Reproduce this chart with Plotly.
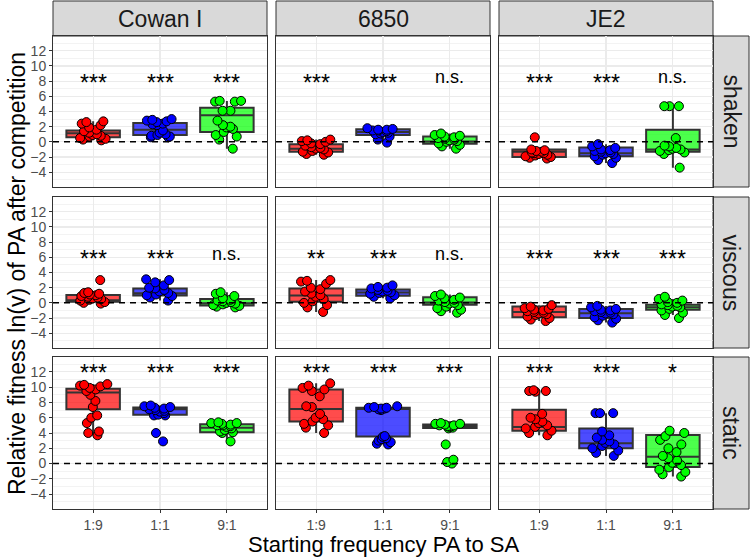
import plotly.graph_objects as go

# ---------------- data ----------------
freqs = ["1:9", "1:1", "9:1"]
strains = ["Cowan I", "6850", "JE2"]
conditions = ["shaken", "viscous", "static"]
point_colors = ["#FF0000", "#0000FF", "#00FF00"]
box_fills = ["rgba(255,0,0,0.7)", "rgba(0,0,255,0.7)", "rgba(0,255,0,0.7)"]

# box stats per frequency: [q1, median, q3, lower whisker, upper whisker]
# points per frequency (1:9, 1:1, 9:1)
shaken_cowan_box = [[0.6, 1.15, 1.5, 0.2, 2.7], [0.9, 1.6, 2.5, 0.6, 3.0], [1.3, 3.5, 4.5, -0.9, 5.4]]
shaken_cowan_pts = [
    [2.7, 2.6, 2.4, 2.2, 1.9, 1.6, 1.4, 1.2, 1.0, 0.9, 0.8, 0.7, 0.5, 0.4, 0.3, 0.2],
    [3.0, 2.9, 2.8, 2.7, 2.6, 2.4, 2.3, 2.2, 1.5, 1.2, 1.0, 0.9, 0.8, 0.7, 0.6, 0.6],
    [5.4, 5.4, 5.3, 5.3, 4.1, 4.1, 2.8, 2.2, 2.0, 1.9, 1.7, 1.3, 0.9, 0.7, 0.3, -0.9],
]
shaken_6850_box = [[-1.3, -0.9, -0.3, -1.7, 0.3], [0.9, 1.3, 1.65, -0.1, 1.8], [-0.25, 0.05, 0.7, -0.9, 1.1]]
shaken_6850_pts = [
    [0.3, 0.2, 0.1, 0.0, -0.2, -0.3, -0.5, -0.7, -0.8, -0.9, -1.0, -1.2, -1.3, -1.4, -1.6, -1.7],
    [1.8, 1.7, 1.6, 1.6, 1.5, 1.5, 1.4, 1.3, 1.2, 1.1, 1.0, 0.7, 0.3, -0.1],
    [1.1, 0.9, 0.8, 0.7, 0.6, 0.5, 0.4, 0.3, 0.2, 0.1, 0.0, -0.2, -0.4, -0.6, -0.9],
]
shaken_je2_box = [[-2.0, -1.3, -1.0, -2.2, -1.0], [-1.9, -1.5, -0.75, -2.8, -0.3], [-1.3, -1.0, 1.6, -3.4, 4.7]]
shaken_je2_pts = [
    [0.6, -1.0, -1.1, -1.2, -1.3, -1.4, -1.5, -1.5, -1.6, -1.7, -1.8, -1.9, -2.0, -2.1, -2.2],
    [-0.3, -0.6, -0.8, -1.0, -1.1, -1.2, -1.3, -1.4, -1.5, -1.6, -1.7, -1.9, -2.1, -2.4, -2.8],
    [4.7, 4.7, 4.7, 0.5, -0.5, -0.6, -0.8, -0.9, -1.0, -1.1, -1.2, -1.4, -1.6, -3.4],
]

viscous_cowan_box = [[0.13, 0.35, 1.05, -0.1, 1.4], [0.97, 1.27, 1.9, 0.3, 3.1], [-0.35, -0.05, 0.5, -0.6, 1.4]]
viscous_cowan_pts = [
    [3.0, 1.4, 1.3, 1.2, 1.1, 1.0, 0.9, 0.8, 0.7, 0.6, 0.5, 0.4, 0.3, 0.1, 0.0, -0.1],
    [3.1, 3.0, 2.7, 2.3, 2.0, 1.9, 1.7, 1.5, 1.3, 1.1, 1.0, 0.9, 0.7, 0.3],
    [1.4, 1.2, 0.9, 0.6, 0.4, 0.3, 0.2, 0.1, 0.0, -0.1, -0.2, -0.3, -0.4, -0.5, -0.6],
]
viscous_6850_box = [[0.13, 0.97, 1.9, -1.2, 3.0], [0.92, 1.35, 1.76, 0.6, 2.3], [-0.26, 0.05, 0.75, -1.3, 1.1]]
viscous_6850_pts = [
    [3.0, 2.9, 2.8, 2.5, 2.0, 1.8, 1.5, 1.2, 1.0, 0.8, 0.5, 0.2, 0.0, -0.3, -0.6, -1.2],
    [2.3, 2.1, 2.0, 1.9, 1.7, 1.6, 1.5, 1.4, 1.3, 1.2, 1.0, 0.8, 0.6],
    [1.1, 0.9, 0.7, 0.6, 0.4, 0.3, 0.1, 0.0, -0.1, -0.3, -0.5, -0.7, -0.9, -1.1, -1.3],
]
viscous_je2_box = [[-1.9, -1.2, -0.48, -2.4, -0.3], [-2.0, -1.36, -0.8, -2.6, -0.4], [-0.92, -0.57, -0.26, -1.6, 0.5]]
viscous_je2_pts = [
    [-0.3, -0.5, -0.7, -0.8, -0.9, -1.0, -1.1, -1.2, -1.3, -1.4, -1.5, -1.6, -1.8, -2.0, -2.2, -2.4],
    [-0.4, -0.6, -0.8, -0.9, -1.0, -1.1, -1.2, -1.3, -1.4, -1.5, -1.7, -1.9, -2.1, -2.3, -2.6],
    [0.8, 0.5, 0.3, 0.1, 0.0, -0.2, -0.3, -0.4, -0.5, -0.6, -0.8, -1.0, -1.3, -1.6, -2.0],
]

static_cowan_box = [[7.1, 9.3, 9.8, 3.7, 10.4], [6.4, 7.1, 7.35, 6.3, 7.6], [4.1, 4.7, 5.15, 2.9, 5.4]]
static_cowan_pts = [
    [10.4, 10.3, 10.2, 10.1, 9.9, 9.7, 9.5, 9.0, 8.2, 7.4, 6.3, 6.0, 5.3, 4.2, 4.0, 3.7],
    [7.6, 7.5, 7.4, 7.3, 7.2, 7.1, 7.0, 6.9, 6.8, 6.6, 6.4, 6.3, 6.3, 4.0, 2.9],
    [5.4, 5.3, 5.3, 5.2, 5.1, 5.0, 5.0, 4.9, 4.8, 4.6, 4.4, 4.2, 4.1, 4.0, 2.9],
]
static_6850_box = [[5.5, 7.15, 9.7, 4.0, 10.5], [3.55, 7.15, 7.3, 2.5, 7.5], [4.65, 4.9, 5.1, 4.6, 5.3]]
static_6850_pts = [
    [10.5, 10.2, 9.9, 9.7, 9.5, 8.8, 7.5, 7.4, 6.5, 6.0, 5.8, 5.5, 5.2, 5.0, 4.7, 4.0],
    [7.5, 7.4, 7.3, 7.3, 7.2, 7.2, 7.1, 7.0, 3.6, 3.5, 3.3, 3.2, 3.0, 2.8, 2.6, 2.5],
    [5.3, 5.2, 5.2, 5.1, 5.0, 5.0, 4.9, 4.9, 4.8, 4.7, 4.6, 2.5, 0.5, 0.2, 0.0],
]
static_je2_box = [[4.3, 4.8, 7.05, 3.7, 9.6], [2.0, 2.65, 4.6, 1.0, 6.6], [-0.46, 0.9, 3.75, -1.7, 4.3]]
static_je2_pts = [
    [9.6, 9.5, 9.5, 9.4, 6.5, 6.0, 5.8, 5.5, 5.3, 5.0, 4.8, 4.6, 4.3, 4.0, 3.7],
    [6.6, 6.6, 6.6, 4.2, 3.7, 3.4, 3.1, 2.9, 2.7, 2.5, 2.3, 2.0, 1.7, 1.4, 1.0],
    [4.3, 4.0, 3.6, 3.1, 2.5, 2.0, 1.5, 1.0, 0.7, 0.4, 0.1, -0.2, -0.5, -0.8, -1.1, -1.4, -1.7],
]

sig_shaken = [["***", "***", "***"], ["***", "***", "n.s."], ["***", "***", "n.s."]]
sig_viscous = [["***", "***", "n.s."], ["**", "***", "n.s."], ["***", "***", "***"]]
sig_static = [["***", "***", "***"], ["***", "***", "***"], ["***", "***", "*"]]
sig_y = [8.5, 6.5, 12.6]

y_ticks = [-4, -2, 0, 2, 4, 6, 8, 10, 12]

panels = {
    0: [(shaken_cowan_box, shaken_cowan_pts), (shaken_6850_box, shaken_6850_pts), (shaken_je2_box, shaken_je2_pts)],
    1: [(viscous_cowan_box, viscous_cowan_pts), (viscous_6850_box, viscous_6850_pts), (viscous_je2_box, viscous_je2_pts)],
    2: [(static_cowan_box, static_cowan_pts), (static_6850_box, static_6850_pts), (static_je2_box, static_je2_pts)],
}
sigs = [sig_shaken, sig_viscous, sig_static]

# ---------------- layout geometry (pixels) ----------------
W, H = 750, 558
col_px = [(53, 267), (276, 490), (499, 713)]
row_px = [(36, 187), (197, 348), (357, 509)]
FONT = "Liberation Sans, Arial, Helvetica, sans-serif"
STAR_SHIFT = 0.75  # asterisk glyphs sit high in the em box

fig = go.Figure()
layout = dict(
    width=W, height=H, margin=dict(l=0, r=0, t=0, b=0, pad=0, autoexpand=False),
    paper_bgcolor="white", plot_bgcolor="white", showlegend=False,
    boxmode="overlay", font=dict(family=FONT),
)
shapes = []
annotations = []

for r in range(3):
    for c in range(3):
        n = r * 3 + c + 1
        xs = "" if n == 1 else str(n)
        xa, ya = "x" + xs, "y" + xs
        box_stats, pts = panels[r][c]
        for k, f in enumerate(freqs):
            q1, med, q3, lo, hi = box_stats[k]
            fig.add_trace(go.Box(
                x=[f], q1=[q1], median=[med], q3=[q3], lowerfence=[lo], upperfence=[hi],
                width=0.8, whiskerwidth=0, fillcolor=box_fills[k],
                line=dict(color="#333333", width=2), boxpoints=False,
                xaxis=xa, yaxis=ya, hoverinfo="skip",
            ))
        for k, f in enumerate(freqs):
            fig.add_trace(go.Box(
                x=[f] * len(pts[k]), y=pts[k], width=0.8,
                boxpoints="all", jitter=0.6, pointpos=0,
                fillcolor="rgba(0,0,0,0)", line=dict(color="rgba(0,0,0,0)", width=0),
                marker=dict(color=point_colors[k], size=9, line=dict(color="black", width=1)),
                xaxis=xa, yaxis=ya, hoverinfo="skip",
            ))
        for k, f in enumerate(freqs):
            lab = sigs[r][c][k]
            is_star = lab.startswith("*")
            annotations.append(dict(
                x=f, y=sig_y[r] - (STAR_SHIFT if is_star else 0), xref=xa, yref=ya,
                text=lab, showarrow=False,
                font=dict(size=23 if is_star else 18, color="black", family=FONT),
                xanchor="center", yanchor="middle",
            ))
        shapes.append(dict(
            type="line", xref=xa + " domain", yref=ya, x0=0, x1=1, y0=0, y1=0,
            line=dict(color="black", width=1.5, dash="6px,5px"), layer="above",
        ))
        x0, x1 = col_px[c]
        y0, y1 = row_px[r]
        layout["xaxis" + xs] = dict(
            domain=[x0 / W, x1 / W], anchor=ya, type="category",
            categoryorder="array", categoryarray=freqs, range=[-0.6, 2.6],
            showgrid=True, gridcolor="#EBEBEB", gridwidth=1.1, zeroline=False,
            showline=True, mirror=True, linecolor="#333333", linewidth=1,
            ticks="outside" if r == 2 else "", ticklen=3, tickcolor="#333333",
            showticklabels=(r == 2), tickfont=dict(size=14, color="#4D4D4D", family=FONT),
            automargin=False, fixedrange=True,
        )
        layout["yaxis" + xs] = dict(
            domain=[1 - y1 / H, 1 - y0 / H], anchor=xa, range=[-5.95, 13.95],
            tickmode="array", tickvals=y_ticks,
            showgrid=True, gridcolor="#EBEBEB", gridwidth=1.1, zeroline=False,
            minor=dict(dtick=1, tick0=0, showgrid=True, gridcolor="#EBEBEB", gridwidth=0.6),
            showline=True, mirror=True, linecolor="#333333", linewidth=1,
            ticks="outside" if c == 0 else "", ticklen=3, tickcolor="#333333",
            showticklabels=(c == 0), tickfont=dict(size=14, color="#4D4D4D", family=FONT),
            automargin=False, fixedrange=True,
        )

# strips on top
for c, s in enumerate(strains):
    x0, x1 = col_px[c]
    shapes.append(dict(type="rect", xref="paper", yref="paper", x0=x0 / W, x1=x1 / W,
                       y0=1 - 36 / H, y1=1 - 1 / H, fillcolor="#D9D9D9",
                       line=dict(color="#333333", width=1), layer="below"))
    annotations.append(dict(x=(x0 + x1) / 2 / W, y=1 - 18.5 / H, xref="paper", yref="paper",
                            xanchor="center", yanchor="middle",
                            text=s, showarrow=False, font=dict(size=23, color="#1A1A1A", family=FONT)))
# strips on right
for r, cond in enumerate(conditions):
    y0, y1 = row_px[r]
    shapes.append(dict(type="rect", xref="paper", yref="paper", x0=713 / W, x1=749 / W,
                       y0=1 - y1 / H, y1=1 - y0 / H, fillcolor="#D9D9D9",
                       line=dict(color="#333333", width=1), layer="below"))
    annotations.append(dict(x=731 / W, y=1 - (y0 + y1) / 2 / H, xref="paper", yref="paper",
                            xanchor="center", yanchor="middle",
                            text=cond, textangle=90, showarrow=False,
                            font=dict(size=23, color="#1A1A1A", family=FONT)))

# axis titles
annotations.append(dict(x=383 / W, y=1 - 544.5 / H, xref="paper", yref="paper",
                        xanchor="center", yanchor="middle",
                        text="Starting frequency PA to SA", showarrow=False,
                        font=dict(size=22, color="black", family=FONT)))
annotations.append(dict(x=17 / W, y=1 - 274 / H, xref="paper", yref="paper",
                        xanchor="center", yanchor="middle",
                        text="Relative fitness ln(v) of PA after competition", textangle=-90,
                        showarrow=False, font=dict(size=23, color="black", family=FONT)))

layout["shapes"] = shapes
layout["annotations"] = annotations
fig.update_layout(**layout)
fig.write_html(
    "out.html",
    config={"displayModeBar": False, "staticPlot": True},
    post_script="document.body.style.margin='0';document.body.style.padding='0';"
                "document.documentElement.style.overflow='hidden';",
)
